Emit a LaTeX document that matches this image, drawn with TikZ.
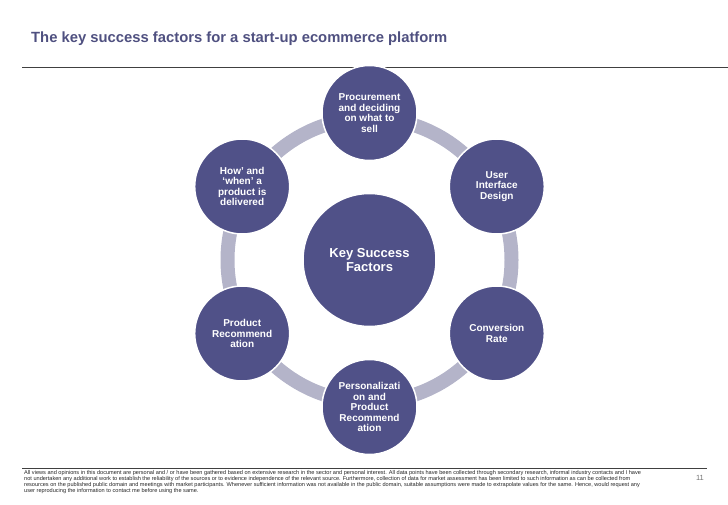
\documentclass[tikz,border=0pt]{standalone}
\usepackage{fontspec}
\setmainfont{Liberation Sans}
\usepackage{tikz}
\usetikzlibrary{calc}
\definecolor{factorblue}{RGB}{80,81,136}
\definecolor{ringgrey}{RGB}{180,180,201}
\definecolor{titleblue}{RGB}{79,80,128}
\tikzset{
  hub/.style={circle, fill=factorblue, draw=white, line width=1.5pt, minimum size=133pt, inner sep=0pt, align=center, text=white, font=\bfseries\fontsize{13}{14}\selectfont},
  factor/.style={circle, fill=factorblue, draw=white, line width=1.5pt, minimum size=95pt, inner sep=0pt, align=center, text=white, font=\bfseries\fontsize{10}{10.5}\selectfont},
  ring/.style={draw=ringgrey, line width=14pt},
  rule/.style={draw=black!75, line width=0.8pt},
  heading/.style={inner sep=0pt, text=titleblue, font=\bfseries\fontsize{14.8}{17}\selectfont},
  disclaimer/.style={inner sep=0pt, align=left, text=black!85, font=\fontsize{5.6}{5.9}\selectfont},
  pagenum/.style={inner sep=0pt, text=black!55, font=\fontsize{7.5}{8}\selectfont}
}
\begin{document}
\begin{tikzpicture}[x=1pt, y=1pt]
  \useasboundingbox (0,0) rectangle (728,504);
  \node[heading, anchor=base west] (title) at (31,461.5) {The key success factors for a start-up ecommerce platform};
  \draw[rule] (22,437) -- (728,437);
  \node[hub] (hub) at (369.5,244) {Key Success\\Factors};
  \draw[ring] (hub.center) circle (142pt);
  \node[factor] (procure) at ($(hub.center)+(90:147pt)$) {Procurement\\and deciding\\on what to\\sell};
  \node[factor] (ui) at ($(hub.center)+(30:147pt)$) {User\\Interface\\Design};
  \node[factor] (conv) at ($(hub.center)+(-30:147pt)$) {Conversion\\Rate};
  \node[factor] (perso) at ($(hub.center)+(-90:147pt)$) {Personalizati\\on and\\Product\\Recommend\\ation};
  \node[factor] (reco) at ($(hub.center)+(210:147pt)$) {Product\\Recommend\\ation};
  \node[factor] (deliv) at ($(hub.center)+(150:147pt)$) {How' and\\`when' a\\product is\\delivered};
  \draw[rule] (22,36) -- (707,36);
  \node[disclaimer, anchor=north west] (note) at (24,33.5) {All views and opinions in this document are personal and / or have been gathered based on extensive research in the sector and personal interest. All data points have been collected through secondary research, informal industry contacts and I have\\not undertaken any additional work to establish the reliability of the sources or to evidence independence of the relevant source. Furthermore, collection of data for market assessment has been limited to such information as can be collected from\\resources on the published public domain and meetings with market participants. Whenever sufficient information was not available in the public domain, suitable assumptions were made to extrapolate values for the same. Hence, would request any\\user reproducing the information to contact me before using the same.};
  \node[pagenum] (page) at (700,26) {11};
\end{tikzpicture}
\end{document}
